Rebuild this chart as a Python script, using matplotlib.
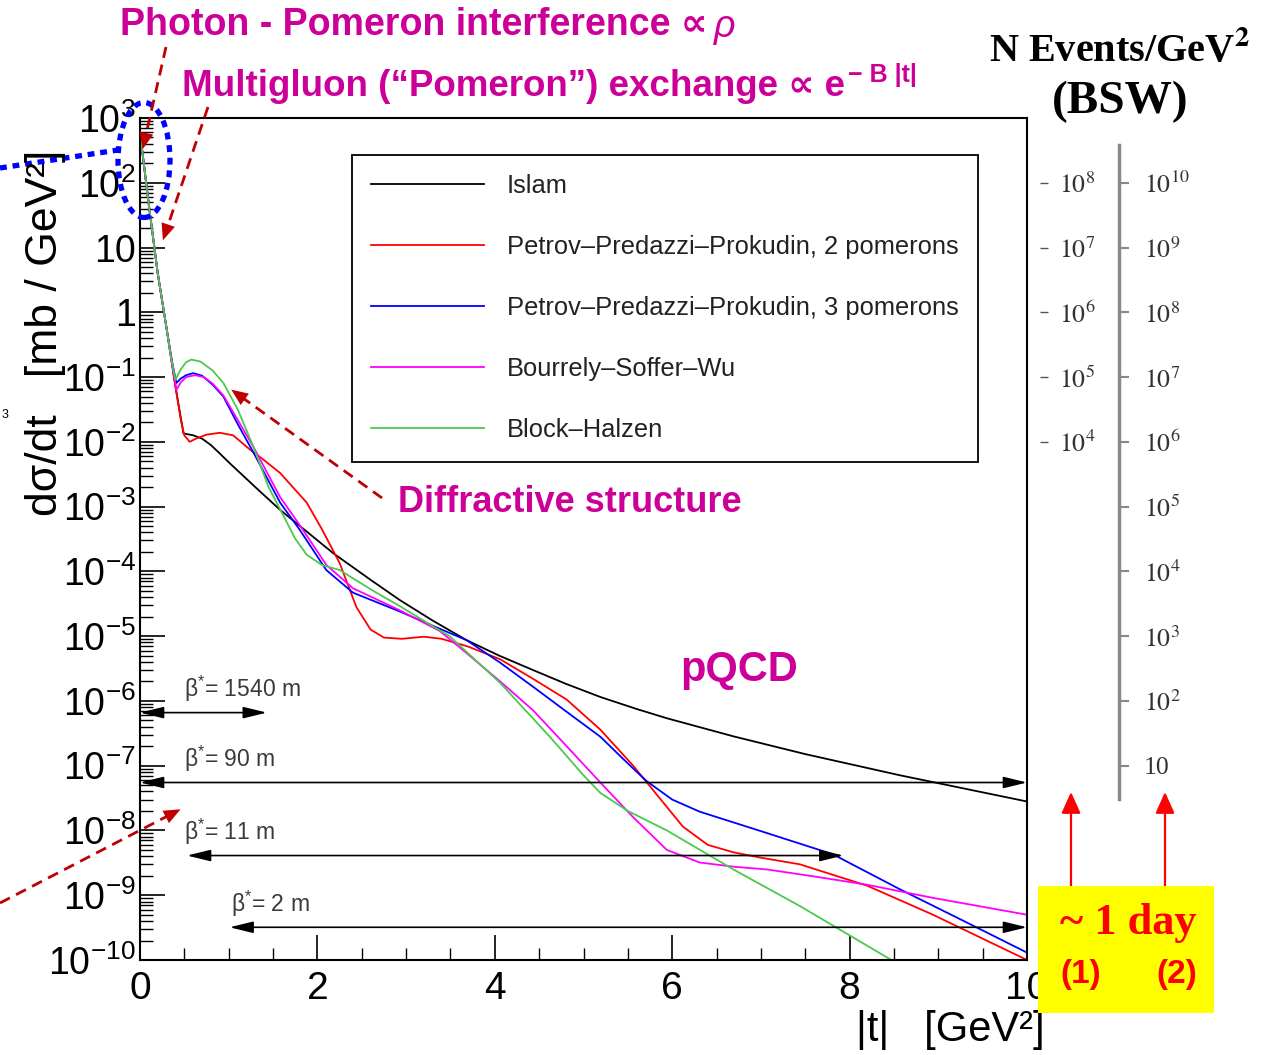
import numpy as np
import matplotlib.pyplot as plt
from matplotlib.patches import Ellipse, Rectangle, FancyArrowPatch
from matplotlib.lines import Line2D
from matplotlib.ticker import LogLocator, NullFormatter, NullLocator, MultipleLocator

plt.rcParams['font.family'] = ['Liberation Sans', 'DejaVu Sans']
plt.rcParams['mathtext.fontset'] = 'custom'
plt.rcParams['mathtext.rm'] = 'Liberation Sans'
plt.rcParams['mathtext.it'] = 'Liberation Sans:italic'
plt.rcParams['mathtext.bf'] = 'Liberation Sans:bold'

# Data: |t| [GeV^2] and dsigma/dt [mb/GeV^2]
t_islam = [0, 0.1, 0.2, 0.3, 0.4, 0.49, 0.6, 0.7, 0.8, 0.9, 1.01, 1.3, 1.58, 2.18,
           2.6, 2.93, 3.3, 3.68, 4.05, 4.43, 4.8, 5.19, 5.6, 5.94, 6.69, 7.5, 8.57, 10]
y_islam = [6.0e2, 45, 4.0, 0.56, 7.1e-2, 1.35e-2, 1.26e-2, 1.12e-2, 8.9e-3, 6.6e-3,
           4.7e-3, 2.0e-3, 8.9e-4, 1.9e-4, 7.4e-5, 3.6e-5, 1.74e-5, 8.7e-6, 5.0e-6,
           3.0e-6, 1.84e-6, 1.15e-6, 7.5e-7, 5.4e-7, 2.84e-7, 1.51e-7, 7.1e-8, 2.8e-8]

t_ppp2 = [0, 0.1, 0.2, 0.3, 0.4, 0.46, 0.5, 0.56, 0.63, 0.75, 0.9, 1.05, 1.24, 1.4,
          1.58, 1.88, 2.05, 2.25, 2.44, 2.6, 2.75, 2.95, 3.2, 3.4, 3.7, 4.06, 4.43,
          4.81, 5.19, 5.56, 5.94, 6.12, 6.4, 6.69, 7.0, 7.44, 8.2, 8.94, 10]
y_ppp2 = [6.0e2, 45, 4.0, 0.56, 7.1e-2, 2.2e-2, 1.26e-2, 1.0e-2, 1.12e-2, 1.29e-2,
          1.38e-2, 1.26e-2, 7.6e-3, 5.2e-3, 3.3e-3, 1.15e-3, 4.5e-4, 1.35e-4,
          2.8e-5, 1.26e-5, 9.5e-6, 9.1e-6, 9.8e-6, 9.1e-6, 6.9e-6, 4.4e-6, 2.2e-6,
          1.05e-6, 3.6e-7, 1.0e-7, 2.3e-8, 1.15e-8, 6.0e-9, 4.6e-9, 3.8e-9, 3.0e-9,
          1.4e-9, 5.0e-10, 1.0e-10]

t_ppp3 = [0, 0.1, 0.2, 0.3, 0.36, 0.41, 0.46, 0.52, 0.6, 0.7, 0.82, 0.94, 1.1, 1.28,
          1.58, 1.8, 2.1, 2.4, 2.93, 3.38, 3.68, 4.06, 4.43, 4.81, 5.19, 5.45, 5.71,
          6.0, 6.31, 7.07, 7.81, 8.57, 9.32, 10]
y_ppp3 = [6.0e2, 45, 4.0, 0.56, 0.178, 8.1e-2, 9.5e-2, 0.107, 0.115, 0.105, 7.6e-2,
          5.0e-2, 1.9e-2, 6.8e-3, 1.15e-3, 4.4e-4, 1.05e-4, 4.7e-5, 2.4e-5, 1.3e-5,
          8.7e-6, 3.9e-6, 1.66e-6, 6.8e-7, 2.8e-7, 1.26e-7, 5.8e-8, 3.0e-8, 1.95e-8,
          9.1e-9, 4.3e-9, 1.23e-9, 3.8e-10, 1.3e-10]

t_bsw = [0, 0.1, 0.2, 0.3, 0.36, 0.41, 0.46, 0.52, 0.62, 0.72, 0.82, 0.94, 1.1, 1.28,
         1.58, 1.8, 2.1, 2.4, 2.93, 3.38, 3.68, 4.06, 4.43, 4.81, 5.19, 5.56, 5.94,
         6.31, 6.7, 7.07, 7.6, 8.2, 8.94, 10]
y_bsw = [6.0e2, 45, 4.0, 0.56, 0.166, 6.3e-2, 8.3e-2, 0.1, 0.107, 0.1, 7.9e-2,
         5.2e-2, 2.2e-2, 8.3e-3, 1.4e-3, 5.2e-4, 1.26e-4, 5.5e-5, 2.5e-5, 1.2e-5,
         5.5e-6, 2.0e-6, 7.2e-7, 2.0e-7, 5.5e-8, 1.6e-8, 5.0e-9, 3.2e-9, 2.75e-9,
         2.5e-9, 1.95e-9, 1.45e-9, 9.1e-10, 5.0e-10]

t_bh = [0, 0.1, 0.2, 0.3, 0.35, 0.4, 0.46, 0.52, 0.58, 0.68, 0.82, 0.94, 1.1, 1.28,
        1.45, 1.62, 1.75, 1.88, 2.05, 2.25, 2.63, 2.93, 3.31, 3.49, 4.06, 4.62, 5.0,
        5.19, 5.5, 5.94, 6.69, 7.44, 8.0, 8.42, 8.6]
y_bh = [6.0e2, 45, 4.0, 0.56, 0.2, 9.1e-2, 0.132, 0.17, 0.186, 0.174, 0.126, 8.1e-2,
        3.2e-2, 8.3e-3, 2.0e-3, 7.1e-4, 3.2e-4, 1.8e-4, 1.26e-4, 1.05e-4, 5.0e-5,
        2.9e-5, 1.4e-5, 1.0e-5, 1.9e-6, 2.8e-7, 7.1e-8, 3.8e-8, 2.0e-8, 1.0e-8,
        2.5e-9, 6.8e-10, 2.4e-10, 1.1e-10, 7.9e-11]

model_names = ["Islam", "Petrov–Predazzi–Prokudin, 2 pomerons",
               "Petrov–Predazzi–Prokudin, 3 pomerons", "Bourrely–Soffer–Wu",
               "Block–Halzen"]
model_colors = ["black", "#FF0000", "#0000FF", "#FF00FF", "#4CC94C"]

# beta* acceptance ranges
beta_labels = ["1540 m", "90 m", "11 m", "2 m"]
beta_level = [6.6e-7, 5.5e-8, 4.1e-9, 3.2e-10]
beta_tmin = [0, 0, 0.53, 1.01]
beta_tmax = [1.43, 10, 7.93, 10]
beta_label_t = [0.5, 0.5, 0.5, 1.03]

y_ticks = [10.0 ** k for k in range(-10, 4)]
y_ticklabels = [r'$10^{%d}$' % k for k in range(-10, 0)] + ['1', '10', r'$10^{2}$', r'$10^{3}$']

# event-count scales (BSW), events per mb
events1_per_mb = 1e6
events1_ticks = [1e4, 1e5, 1e6, 1e7, 1e8]
events1_labels = [r'$10^{4}$', r'$10^{5}$', r'$10^{6}$', r'$10^{7}$', r'$10^{8}$']
events2_per_mb = 1e8
events2_ticks = [1e1, 1e2, 1e3, 1e4, 1e5, 1e6, 1e7, 1e8, 1e9, 1e10]
events2_labels = ['10'] + [r'$10^{%d}$' % k for k in range(2, 11)]

W, H = 1264, 1055
fig = plt.figure(figsize=(W / 100, H / 100), dpi=100)


def fx(px):
    return px / W


def fy(py):
    return 1 - py / H


ax = fig.add_axes([fx(140), fy(960), fx(1027) - fx(140), fy(118) - fy(960)])
ax.set_yscale('log')
ax.set_xlim(0, 10)
ax.set_ylim(1e-10, 1e3)

curves = [(t_islam, y_islam), (t_ppp2, y_ppp2), (t_ppp3, y_ppp3),
          (t_bsw, y_bsw), (t_bh, y_bh)]
for (tt, yy), name, col in zip(curves, model_names, model_colors):
    ax.plot(tt, yy, color=col, lw=1.3, label=name)

ax.set_xticks(np.arange(0, 11, 2))
ax.xaxis.set_minor_locator(MultipleLocator(0.5))
ax.set_yticks(y_ticks, y_ticklabels)
ax.yaxis.set_minor_locator(LogLocator(base=10, subs=np.arange(2, 10), numticks=50))
ax.yaxis.set_minor_formatter(NullFormatter())
ax.tick_params(which='major', direction='in', length=18, width=1.2, top=False, right=False)
ax.tick_params(which='minor', direction='in', length=9, width=1.0, top=False, right=False)
ax.tick_params(axis='x', labelsize=28, pad=8)
ax.tick_params(axis='y', labelsize=27, pad=3)
for sp in ax.spines.values():
    sp.set_linewidth(1.5)

leg = ax.legend(loc='upper left', bbox_to_anchor=(0.239, 0.956), fontsize=18.4,
                frameon=True, fancybox=False, edgecolor='black', framealpha=1,
                handlelength=4.4, handletextpad=0.9, labelspacing=1.45,
                borderpad=0.75, borderaxespad=0)
leg.get_frame().set_linewidth(1.3)
for txt in leg.get_texts():
    txt.set_color('#222222')

# beta* ranges
for lab, lev, t0, t1, tl in zip(beta_labels, beta_level, beta_tmin, beta_tmax, beta_label_t):
    ax.annotate('', xy=(t1, lev), xytext=(t0, lev),
                arrowprops=dict(arrowstyle='<|-|>,head_length=0.9,head_width=0.22',
                                color='black', lw=1.2, mutation_scale=16,
                                shrinkA=0, shrinkB=0), annotation_clip=False)
    ax.annotate('β$^{*}$= ' + lab, xy=(tl, lev), xytext=(0, 17), textcoords='offset points',
                ha='left', va='center', fontsize=16.5, color='#3a3a3a')

# event-count scales on the right
ax_e1 = fig.add_axes([fx(1040) - 0.0001, fy(960), 0.0001, fy(118) - fy(960)])
ax_e2 = fig.add_axes([fx(1119) - 0.0001, fy(960), 0.0001, fy(118) - fy(960)])
for axe, fac, ticks, labels in [(ax_e1, events1_per_mb, events1_ticks, events1_labels),
                                (ax_e2, events2_per_mb, events2_ticks, events2_labels)]:
    axe.set_yscale('log')
    axe.set_ylim(1e-10 * fac, 1e3 * fac)
    axe.patch.set_visible(False)
    for sp in axe.spines.values():
        sp.set_visible(False)
    axe.xaxis.set_major_locator(NullLocator())
    axe.yaxis.tick_right()
    axe.set_yticks(ticks, labels, fontsize=18.5, fontfamily='Liberation Serif',
                   math_fontfamily='stix', color='#333333')
    axe.yaxis.set_minor_locator(NullLocator())
ax_e1.tick_params(axis='y', direction='out', length=6, width=1.0, color='#555555', pad=8)
ax_e2.spines['right'].set_visible(True)
ax_e2.spines['right'].set_color('#888888')
ax_e2.spines['right'].set_linewidth(2.5)
ax_e2.spines['right'].set_bounds(10 ** 0.48, 10 ** 10.58)
ax_e2.tick_params(axis='y', direction='out', length=7, width=1.5, color='#888888', pad=11)

# axis titles
fig.text(fx(46), fy(333), 'dσ/dt   [mb / GeV²]', rotation=90, ha='center', va='center',
         fontsize=32)
fig.text(fx(1045), fy(1030), '|t|   [GeV²]', ha='right', va='center', fontsize=30)
fig.text(fx(2), fy(418), '3', fontsize=9)

# annotations
mag = '#CC0099'
renderer = fig.canvas.get_renderer()
t_photon = fig.text(fx(120), fy(25), 'Photon - Pomeron interference ∝',
                    ha='left', va='center', fontsize=27, fontweight='bold', color=mag)
bb = t_photon.get_window_extent(renderer)
fig.text((bb.x1 + 6) / W, fy(27), 'ρ', ha='left', va='center', fontsize=27,
         fontstyle='italic', color=mag)
t_multi = fig.text(fx(182), fy(87), 'Multigluon (“Pomeron”) exchange ∝ e',
                   ha='left', va='center', fontsize=26.5, fontweight='bold', color=mag)
bb = t_multi.get_window_extent(renderer)
fig.text((bb.x1 + 3) / W, fy(75), '− B |t|', ha='left', va='center', fontsize=18,
         fontweight='bold', color=mag)
fig.text(fx(398), fy(503), 'Diffractive structure', ha='left', va='center',
         fontsize=26, fontweight='bold', color=mag)
fig.text(fx(680), fy(670), 'pQCD', ha='left', va='center', fontsize=30,
         fontweight='bold', color=mag)

dark_red = '#C00000'


def dashed_arrow(tail, tip):
    (x0, y0), (x1, y1) = tail, tip
    d = np.hypot(x1 - x0, y1 - y0)
    ux, uy = (x1 - x0) / d, (y1 - y0) / d
    bx, by = x1 - 16 * ux, y1 - 16 * uy
    fig.add_artist(Line2D([fx(x0), fx(bx)], [fy(y0), fy(by)], color=dark_red, lw=2,
                          linestyle=(0, (4, 2.5))))
    fig.add_artist(FancyArrowPatch((fx(x1 - 24 * ux), fy(y1 - 24 * uy)), (fx(x1), fy(y1)),
                                   transform=fig.transFigure,
                                   arrowstyle='-|>,head_length=1.0,head_width=0.42',
                                   mutation_scale=12, color=dark_red, lw=0))


dashed_arrow((166, 47), (142, 152))
dashed_arrow((208, 107), (162, 243))
dashed_arrow((382, 498), (229, 388))
dashed_arrow((0, 903), (183, 808))

# blue dotted ellipse around the interference region
fig.add_artist(Ellipse((fx(144), fy(160)), 52 / W, 115 / H, transform=fig.transFigure,
                       fill=False, edgecolor='#0000FF', lw=3.8, linestyle=(0, (1.3, 1.1))))
fig.add_artist(Line2D([fx(0), fx(118)], [fy(168), fy(150)], color='#0000FF', lw=3.8,
                      linestyle=(0, (1.3, 1.1))))

# header of the event scales
fig.text(fx(1120), fy(50), r'N Events/GeV$^{\mathbf{2}}$', ha='center', va='center',
         fontsize=29, fontweight='bold', fontfamily='Liberation Serif',
         math_fontfamily='stix')
fig.text(fx(1120), fy(102), '(BSW)', ha='center', va='center', fontsize=34,
         fontweight='bold', fontfamily='Liberation Serif')

# ~1 day box
fig.add_artist(Rectangle((fx(1038), fy(1013)), (1214 - 1038) / W, (1013 - 886) / H,
                         transform=fig.transFigure, facecolor='#FFFF00', edgecolor='none',
                         zorder=5))
fig.text(fx(1128), fy(923), '~ 1 day', ha='center', va='center', fontsize=32,
         fontweight='bold', fontfamily='Liberation Serif', color='#FF0000', zorder=6)
fig.text(fx(1081), fy(975), '(1)', ha='center', va='center', fontsize=24,
         fontweight='bold', color='#FF0000', zorder=6)
fig.text(fx(1177), fy(975), '(2)', ha='center', va='center', fontsize=24,
         fontweight='bold', color='#FF0000', zorder=6)
for xa in (1071, 1165):
    fig.add_artist(FancyArrowPatch((fx(xa), fy(886)), (fx(xa), fy(792)),
                                   transform=fig.transFigure,
                                   arrowstyle='-|>,head_length=1.0,head_width=0.45',
                                   mutation_scale=13, color='#FF0000', lw=1.6,
                                   shrinkA=0, shrinkB=0))

fig.savefig('out.png', dpi=100)
